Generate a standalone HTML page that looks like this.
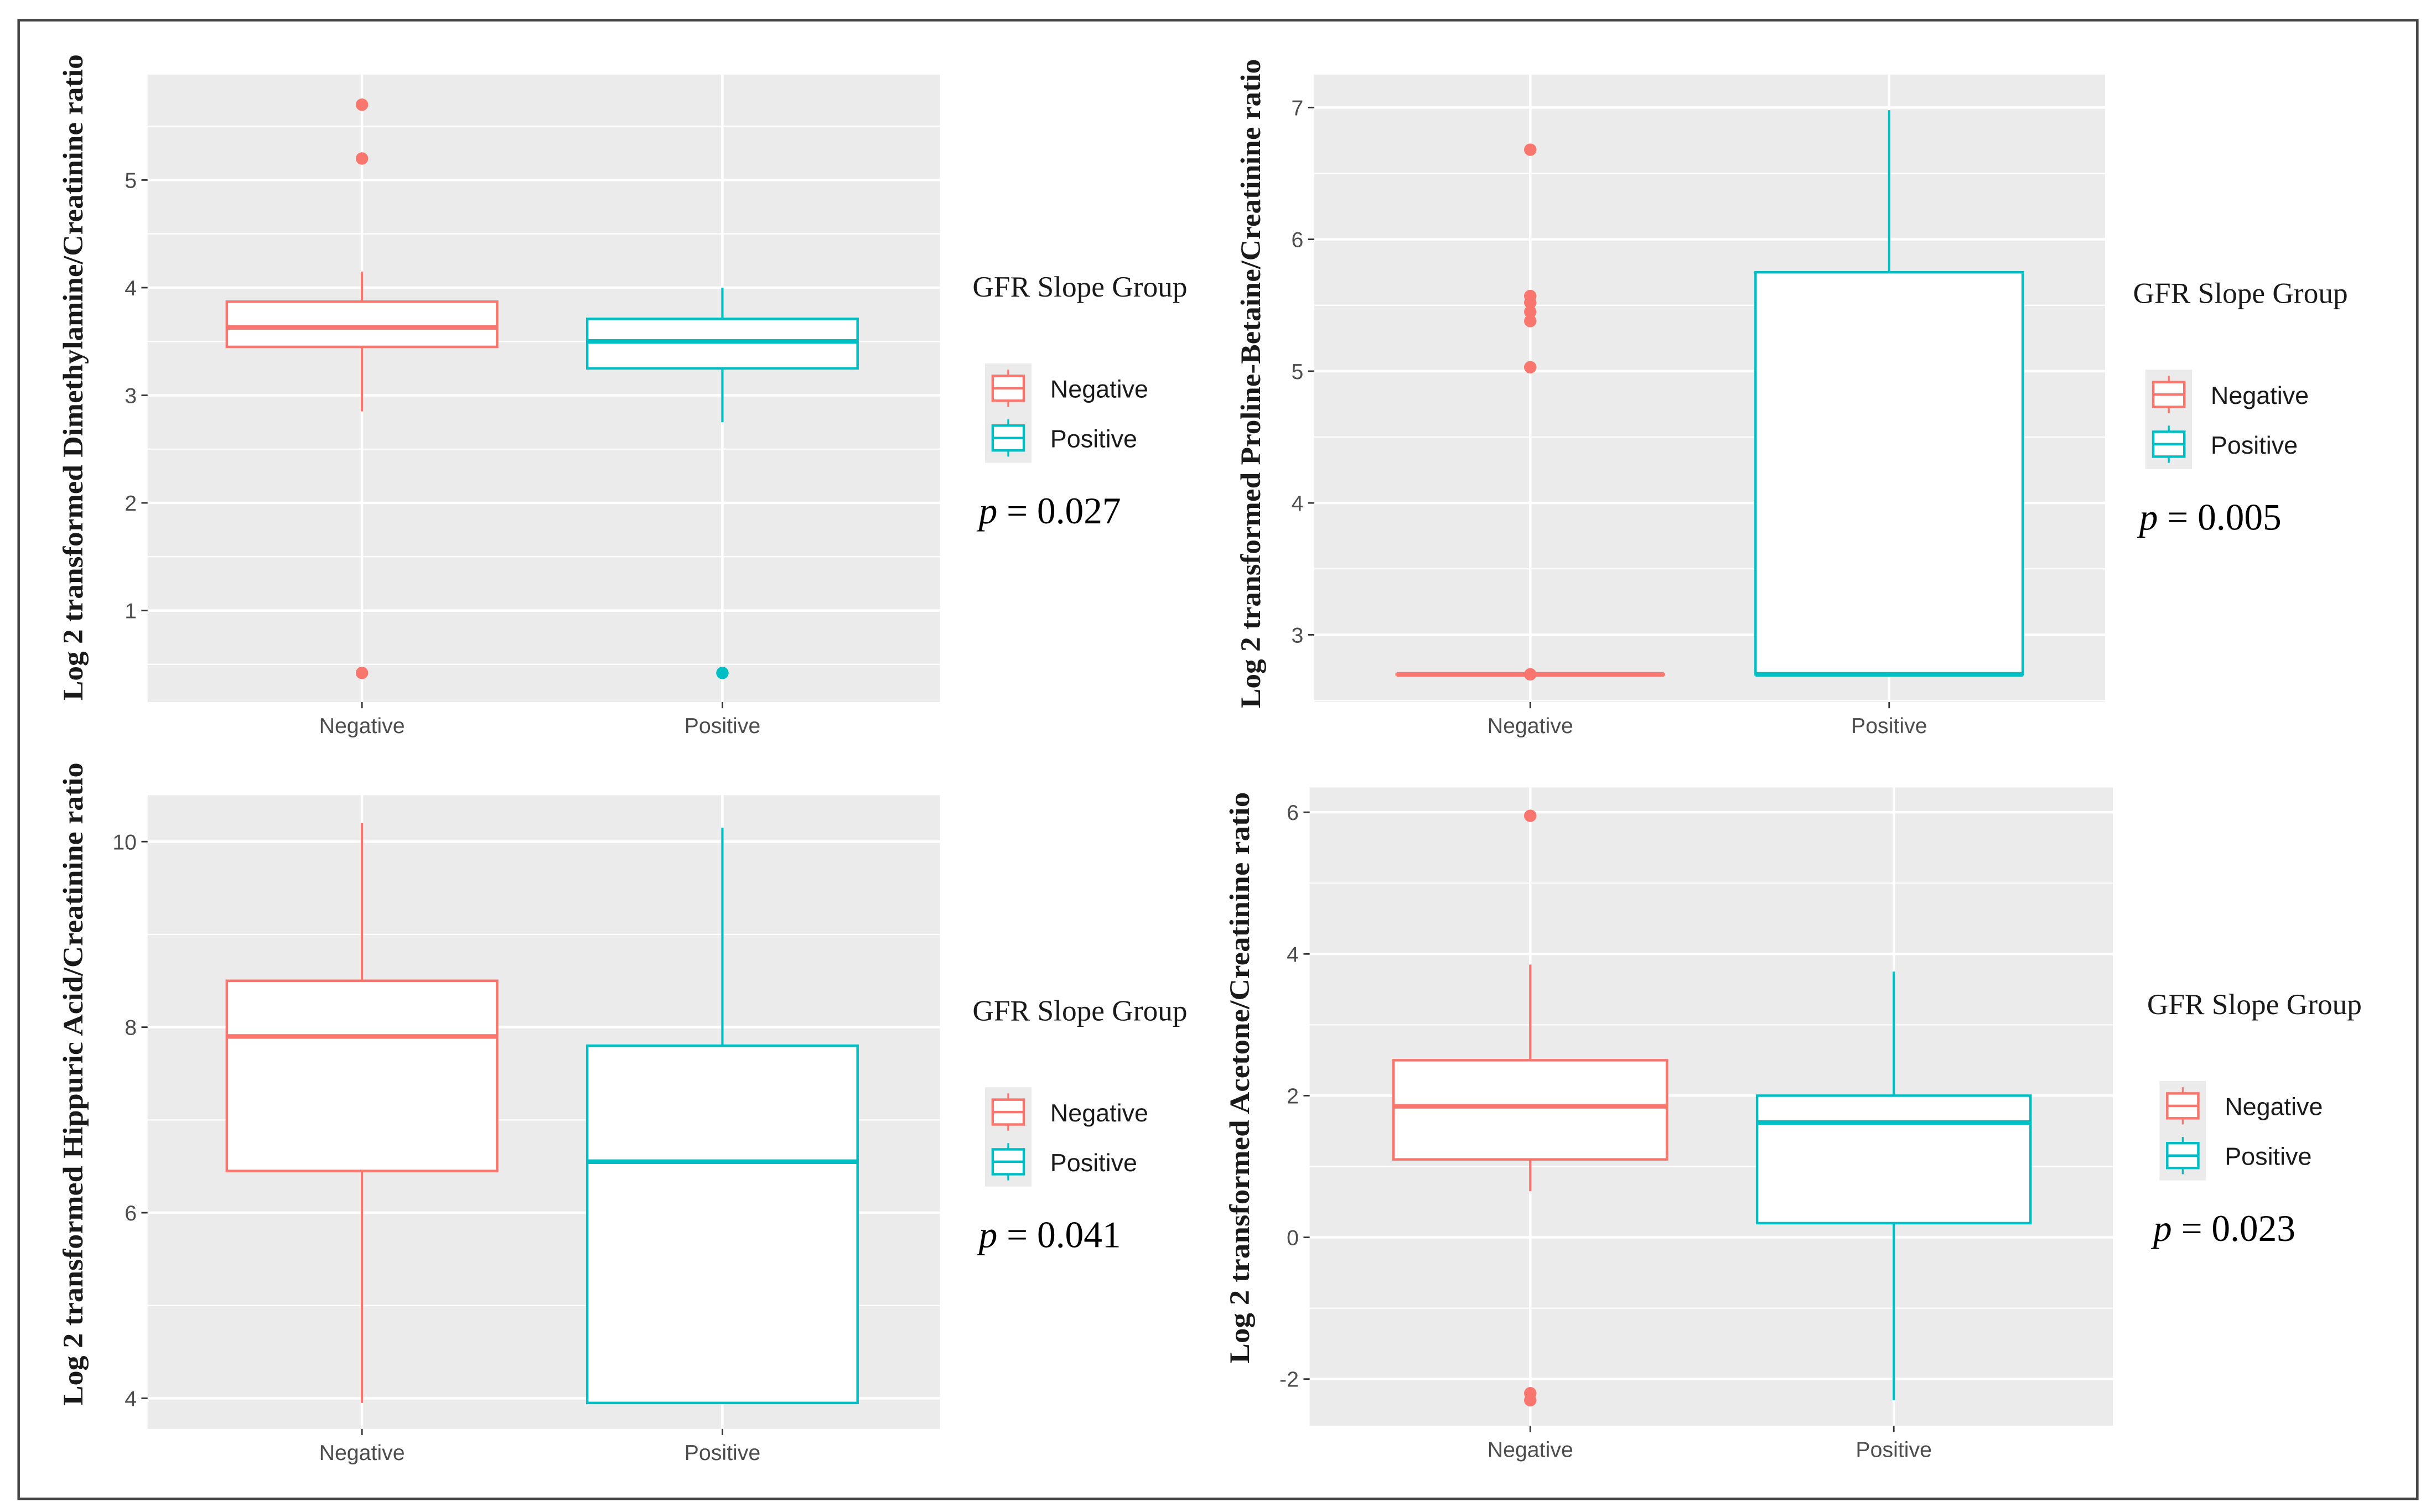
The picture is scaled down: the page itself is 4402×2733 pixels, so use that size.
<!DOCTYPE html>
<html><head><meta charset="utf-8">
<style>
html,body{margin:0;padding:0;background:#fff;}
svg{display:block;}
.tick{font-family:"Liberation Sans",sans-serif;font-size:14px;fill:#4d4d4d;}
.ttl{font-family:"Liberation Serif",serif;font-size:18px;font-weight:bold;fill:#1a1a1a;}
.leg{font-family:"Liberation Serif",serif;font-size:19px;fill:#1a1a1a;}
.legt{font-family:"Liberation Sans",sans-serif;font-size:16px;fill:#1a1a1a;}
.pv{font-family:"Liberation Serif",serif;font-size:24px;fill:#000;}
</style></head>
<body>
<svg id="fig" width="4402" height="2733" viewBox="0 0 1568 973.5" xmlns="http://www.w3.org/2000/svg">
<rect x="0" y="0" width="1568" height="973.5" fill="#fff"/>
<rect x="12" y="13" width="1544" height="952" fill="none" stroke="#444" stroke-width="1.6"/>
</svg>
<script>
// ---- data ----
const categories = ["Negative","Positive"];
const groupColors = ["#F8766D","#00BFC4"];
// panel 1: Dimethylamine
const p1Ticks = [1,2,3,4,5];
const p1Whislo = [2.85, 2.75];
const p1Q1 = [3.45, 3.25];
const p1Median = [3.63, 3.5];
const p1Q3 = [3.87, 3.71];
const p1Whishi = [4.15, 4.0];
const p1OutNeg = [5.7, 5.2, 0.42];
const p1OutPos = [0.42];
// panel 2: Proline-Betaine
const p2Ticks = [3,4,5,6,7];
const p2Whislo = [2.7, 2.7];
const p2Q1 = [2.7, 2.7];
const p2Median = [2.7, 2.7];
const p2Q3 = [2.7, 5.75];
const p2Whishi = [2.7, 6.98];
const p2OutNeg = [6.68, 5.57, 5.52, 5.45, 5.38, 5.03, 2.7];
const p2OutPos = [];
// panel 3: Hippuric Acid
const p3Ticks = [4,6,8,10];
const p3Whislo = [3.95, 3.95];
const p3Q1 = [6.45, 3.95];
const p3Median = [7.9, 6.55];
const p3Q3 = [8.5, 7.8];
const p3Whishi = [10.2, 10.15];
const p3OutNeg = [];
const p3OutPos = [];
// panel 4: Acetone
const p4Ticks = [-2,0,2,4,6];
const p4Whislo = [0.65, -2.3];
const p4Q1 = [1.1, 0.2];
const p4Median = [1.85, 1.62];
const p4Q3 = [2.5, 2.0];
const p4Whishi = [3.85, 3.75];
const p4OutNeg = [5.95, -2.2, -2.3];
const p4OutPos = [];

const NS = "http://www.w3.org/2000/svg";
const svg = document.getElementById("fig");
function mk(tag, attrs, parent){
  const e = document.createElementNS(NS, tag);
  for (const k in attrs) e.setAttribute(k, attrs[k]);
  (parent||svg).appendChild(e);
  return e;
}

function panel(cfg){
  const g = mk("g", {});
  
  
  const {x0,x1,y0,y1,vmin,vmax} = cfg;
  const ys = v => y1 - (v - vmin) / (vmax - vmin) * (y1 - y0);
  const xs = i => cfg.cx[i];
  const bg = mk("rect", {x:x0, y:y0, width:x1-x0, height:y1-y0, fill:"#EBEBEB"}, g);
  
  
  const t = cfg.ticks, step = t[1]-t[0];
  for (let v = t[0]-step/2; v <= vmax; v += step){
    if (v < vmin) continue;
    mk("line", {x1:x0, x2:x1, y1:ys(v), y2:ys(v), stroke:"#fff", "stroke-width":0.8}, g);
  }
  t.forEach(v => {
    const gl = mk("line", {x1:x0, x2:x1, y1:ys(v), y2:ys(v), stroke:"#fff", "stroke-width":1.6}, g);
    
    
    mk("line", {x1:x0-4, x2:x0, y1:ys(v), y2:ys(v), stroke:"#333", "stroke-width":1}, g);
    const tx = mk("text", {x:x0-7, y:ys(v)+5, "text-anchor":"end", class:"tick"}, g);
    tx.textContent = v;
    
    
  });
  categories.forEach((c,i) => {
    mk("line", {x1:xs(i), x2:xs(i), y1:y0, y2:y1, stroke:"#fff", "stroke-width":1.6}, g);
    mk("line", {x1:xs(i), x2:xs(i), y1:y1, y2:y1+4, stroke:"#333", "stroke-width":1}, g);
    const tx = mk("text", {x:xs(i), y:y1+20, "text-anchor":"middle", class:"tick"}, g);
    tx.textContent = c;
    
    
  });
  const hw = cfg.hw;
  categories.forEach((c,i) => {
    const col = groupColors[i];
    const bx = mk("g", {}, g);
    
    
    mk("line", {x1:xs(i), x2:xs(i), y1:ys(cfg.whislo[i]), y2:ys(cfg.q1[i]), stroke:col, "stroke-width":1.5}, bx);
    mk("line", {x1:xs(i), x2:xs(i), y1:ys(cfg.q3[i]), y2:ys(cfg.whishi[i]), stroke:col, "stroke-width":1.5}, bx);
    mk("rect", {x:xs(i)-hw, y:ys(cfg.q3[i]), width:2*hw, height:Math.max(0.01, ys(cfg.q1[i])-ys(cfg.q3[i])), fill:"#fff", stroke:col, "stroke-width":1.6}, bx);
    mk("line", {x1:xs(i)-hw, x2:xs(i)+hw, y1:ys(cfg.median[i]), y2:ys(cfg.median[i]), stroke:col, "stroke-width":3}, bx);
    (i===0 ? cfg.outNeg : cfg.outPos).forEach(v => {
      const p = mk("circle", {cx:xs(i), cy:ys(v), r:4, fill:col}, bx);
      
      
    });
  });
  const ty = mk("text", {x:0, y:0, "text-anchor":"middle", class:"ttl",
    textLength:cfg.titleLen, lengthAdjust:"spacingAndGlyphs",
    transform:`translate(${cfg.titleX},${cfg.titleY}) rotate(-90)`}, g);
  ty.textContent = cfg.title;
  
  
  const lg = mk("g", {}, g);
  
  
  const lx = cfg.lx, ly = cfg.ly;
  const lt = mk("text", {x:lx, y:ly, class:"leg"}, lg);
  lt.textContent = "GFR Slope Group";
  
  
  mk("rect", {x:lx+8, y:ly+43, width:30, height:64, fill:"#EBEBEB"}, lg);
  categories.forEach((c,i) => {
    const cy = ly + 59 + i*32;
    const col = groupColors[i];
    const e = mk("g", {}, lg);
    
    
    mk("line", {x1:lx+23, x2:lx+23, y1:cy-12, y2:cy+12, stroke:col, "stroke-width":1.2}, e);
    mk("rect", {x:lx+13, y:cy-8, width:20, height:16, fill:"#fff", stroke:col, "stroke-width":1.6}, e);
    mk("line", {x1:lx+13, x2:lx+33, y1:cy, y2:cy, stroke:col, "stroke-width":1.6}, e);
    const tx = mk("text", {x:lx+50, y:cy+6, class:"legt"}, e);
    tx.textContent = c;
  });
  const pv = mk("text", {x:lx+4, y:ly+146, class:"pv"}, g);
  pv.innerHTML = '<tspan font-style="italic">p</tspan> = ' + cfg.p;
  
  
}

panel({name:"panel-dimethylamine", x0:95, x1:605, y0:48, y1:452, vmin:0.15, vmax:5.98, cx:[233,465], hw:87,
  ticks:p1Ticks, whislo:p1Whislo, q1:p1Q1, median:p1Median, q3:p1Q3, whishi:p1Whishi, outNeg:p1OutNeg, outPos:p1OutPos,
  title:"Log 2 transformed Dimethylamine/Creatinine ratio", titleX:53, titleY:243, titleLen:416, lx:626, ly:191, p:"0.027"});
panel({name:"panel-proline-betaine", x0:846, x1:1355, y0:48, y1:452, vmin:2.49, vmax:7.25, cx:[985,1216], hw:86,
  ticks:p2Ticks, whislo:p2Whislo, q1:p2Q1, median:p2Median, q3:p2Q3, whishi:p2Whishi, outNeg:p2OutNeg, outPos:p2OutPos,
  title:"Log 2 transformed Proline-Betaine/Creatinine ratio", titleX:811, titleY:247, titleLen:418, lx:1373, ly:195, p:"0.005"});
panel({name:"panel-hippuric-acid", x0:95, x1:605, y0:512, y1:920, vmin:3.67, vmax:10.5, cx:[233,465], hw:87,
  ticks:p3Ticks, whislo:p3Whislo, q1:p3Q1, median:p3Median, q3:p3Q3, whishi:p3Whishi, outNeg:p3OutNeg, outPos:p3OutPos,
  title:"Log 2 transformed Hippuric Acid/Creatinine ratio", titleX:53, titleY:698, titleLen:414, lx:626, ly:657, p:"0.041"});
panel({name:"panel-acetone", x0:843, x1:1360, y0:507, y1:918, vmin:-2.66, vmax:6.35, cx:[985,1219], hw:88,
  ticks:p4Ticks, whislo:p4Whislo, q1:p4Q1, median:p4Median, q3:p4Q3, whishi:p4Whishi, outNeg:p4OutNeg, outPos:p4OutPos,
  title:"Log 2 transformed Acetone/Creatinine ratio", titleX:804, titleY:694, titleLen:368, lx:1382, ly:653, p:"0.023"});
</script>
</body></html>
